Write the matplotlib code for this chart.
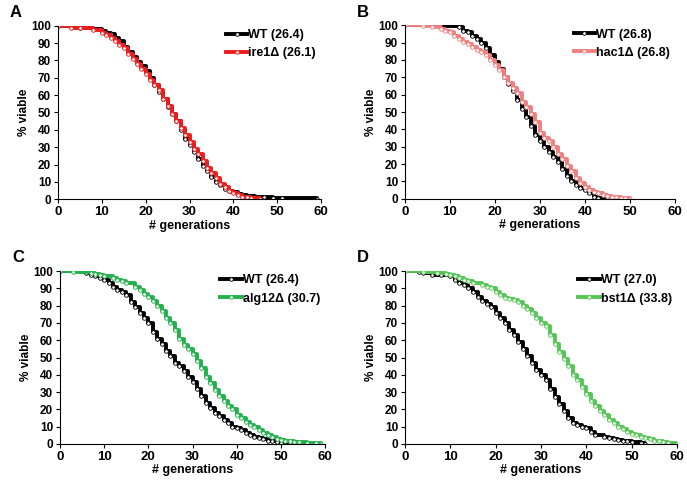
import matplotlib
matplotlib.use('Agg')
import matplotlib.pyplot as plt

plt.rcParams['font.family'] = ['Liberation Sans', 'DejaVu Sans']
plt.rcParams['font.weight'] = 'bold'

# ---- panel A ----
a_wt_gen = [0, 3, 5, 8, 10, 11, 12, 13, 14, 15, 16, 17, 18, 19, 20, 21, 22, 23, 24, 25, 26, 27, 28, 29, 30,
            31, 32, 33, 34, 35, 36, 37, 38, 39, 40, 41, 42, 43, 45, 47, 49, 51, 59]
a_wt_via = [100, 99.5, 99, 98, 97, 96, 95, 93, 91, 88, 85, 82, 79, 77, 74, 70, 66, 62, 58, 53, 49, 45, 40, 35, 31,
            27, 23, 19, 16, 13, 10, 8, 6, 5, 4, 3, 2.5, 2, 1.5, 1, 0.8, 0.5, 0]
a_mu_gen = [0, 3, 5, 8, 10, 11, 12, 13, 14, 15, 16, 17, 18, 19, 20, 21, 22, 23, 24, 25, 26, 27, 28, 29, 30,
            31, 32, 33, 34, 35, 36, 37, 38, 39, 40, 41, 42, 43, 44, 46]
a_mu_via = [100, 99, 98.5, 97.5, 96, 94.5, 93, 91, 89, 87, 84, 81, 78, 75, 72, 69, 66, 63, 58, 54, 49, 45, 41, 37, 33,
            29, 26, 22, 18, 15, 12, 9, 7, 5, 3.5, 2.5, 1.5, 1, 0.5, 0]

# ---- panel B ----
b_wt_gen = [0, 6, 12, 13, 14, 15, 16, 17, 18, 19, 20, 21, 22, 23, 24, 25, 26, 27, 28, 29, 30, 31, 32, 33, 34,
            35, 36, 37, 38, 39, 40, 41, 42, 43, 45]
b_wt_via = [100, 99.5, 99, 97, 96, 94, 92, 90, 87, 83, 79, 75, 70, 66, 62, 57, 52, 47, 42, 37, 33, 30, 27, 24, 21,
            17, 13, 10, 8, 6, 5, 3, 1, 0.5, 0]
b_mu_gen = [0, 4, 6, 8, 9, 10, 11, 12, 13, 14, 15, 16, 17, 18, 19, 20, 21, 22, 23, 24, 25, 26, 27, 28, 29, 30,
            31, 32, 33, 34, 35, 36, 37, 38, 39, 40, 41, 42, 43, 44, 45, 46, 47, 48, 49, 50]
b_mu_via = [100, 99.5, 99, 98, 97, 96, 94, 92, 90.5, 89, 87.5, 86, 84.5, 83, 80, 77, 74, 70, 67, 64, 61, 56, 53, 49,
            44, 38, 35, 33, 30, 26, 23, 19, 16, 12, 9, 7, 5, 4, 3, 2, 1.5, 1, 0.8, 0.5, 0.3, 0]

# ---- panel C ----
c_wt_gen = [0, 6, 7, 8, 9, 10, 11, 12, 13, 14, 15, 16, 17, 18, 19, 20, 21, 22, 23, 24, 25, 26, 27, 28, 29, 30,
            31, 32, 33, 34, 35, 36, 37, 38, 39, 40, 41, 42, 43, 44, 45, 46, 47, 48, 49, 50, 52, 55]
c_wt_via = [100, 99, 98, 97, 96, 95, 93, 91, 89, 88, 86, 82, 79, 76, 73, 70, 65, 61, 58, 54, 51, 47, 45, 42, 39, 36,
            32, 28, 24, 21, 18, 16, 14, 12, 10, 9, 8, 6.5, 5, 4, 3.5, 3, 2, 1.5, 1, 0.5, 0.3, 0]
c_mu_gen = [0, 3, 7, 8, 9, 10, 12, 13, 14, 15, 17, 18, 19, 20, 21, 22, 23, 24, 25, 26, 27, 28, 29, 30, 31, 32,
            33, 34, 35, 36, 37, 38, 39, 40, 41, 42, 43, 44, 45, 46, 47, 48, 49, 50, 51, 52, 53, 54, 56, 58, 59]
c_mu_via = [100, 99.5, 99, 98.5, 98, 97, 96, 95, 94, 93, 91, 89, 87, 85, 83, 80, 77, 73, 70, 66, 61, 57, 55, 52, 48,
            44, 39, 35, 31, 28, 25, 22, 20, 17, 15, 13, 11, 10, 8, 6.5, 5, 4, 3, 2.5, 2, 1.5, 1.2, 1, 0.5, 0.3, 0]

# ---- panel D ----
d_wt_gen = [0, 3, 4, 6, 8, 10, 11, 12, 13, 14, 15, 16, 17, 18, 19, 20, 21, 22, 23, 24, 25, 26, 27, 28, 29, 30,
            31, 32, 33, 34, 35, 36, 37, 38, 39, 40, 41, 42, 44, 45, 46, 47, 48, 49, 50, 52, 53]
d_wt_via = [100, 99.5, 99, 98, 97.5, 97, 95, 93, 92, 90, 88, 85, 83, 81, 79, 76, 73, 70, 66, 63, 59, 55, 51, 47, 43,
            40, 37, 32, 27, 23, 19, 15, 12, 11, 10, 9, 7, 5, 4, 3.5, 3, 2.5, 2, 1.5, 1, 0.5, 0]
d_mu_gen = [0, 4, 7, 9, 10, 11, 12, 13, 14, 15, 17, 18, 19, 20, 21, 22, 23, 24, 25, 26, 27, 28, 29, 30, 31, 32,
            33, 34, 35, 36, 37, 38, 39, 40, 41, 42, 43, 44, 45, 46, 47, 48, 49, 50, 51, 52, 53, 54, 55, 56, 57, 58, 60]
d_mu_via = [100, 99.5, 99, 98.5, 98, 97, 96, 95, 94, 93, 92, 91, 90, 88, 86, 84.5, 84, 83.5, 82, 80, 78, 76, 73, 70,
            68, 63, 58, 53, 49, 45, 40, 37, 33, 29, 25, 22, 19, 17, 14, 12, 10, 8.5, 7, 6, 5, 4, 3.5, 3, 2, 1.5, 1,
            0.5, 0]

panels = [
    ('A', [0.0844, 0.591, 0.383, 0.356], a_wt_gen, a_wt_via, 'WT (26.4)', a_mu_gen, a_mu_via, 'ire1\u0394 (26.1)', '#ee1c1c'),
    ('B', [0.5895, 0.592, 0.393, 0.356], b_wt_gen, b_wt_via, 'WT (26.8)', b_mu_gen, b_mu_via, 'hac1\u0394 (26.8)', '#f08080'),
    ('C', [0.0873, 0.0883, 0.386, 0.355], c_wt_gen, c_wt_via, 'WT (26.4)', c_mu_gen, c_mu_via, 'alg12\u0394 (30.7)', '#22b14c'),
    ('D', [0.5895, 0.0883, 0.396, 0.355], d_wt_gen, d_wt_via, 'WT (27.0)', d_mu_gen, d_mu_via, 'bst1\u0394 (33.8)', '#55c655'),
]

fig = plt.figure(figsize=(6.87, 4.87), dpi=100)

for letter, rect, wg, wv, wlab, mg, mv, mlab, col in panels:
    ax = fig.add_axes(rect)
    ax.plot(wg, wv, drawstyle='steps-post', color='black', lw=2.8,
            marker='o', ms=2.6, mfc='white', mec='black', mew=0.6, label=wlab)
    ax.plot(mg, mv, drawstyle='steps-post', color=col, lw=2.8,
            marker='o', ms=2.6, mfc='white', mec=col, mew=0.6, label=mlab)
    ax.set_xlim(0, 60)
    ax.set_ylim(0, 100)
    ax.set_xticks(range(0, 61, 10))
    ax.set_yticks(range(0, 101, 10))
    ax.spines['top'].set_visible(False)
    ax.spines['right'].set_visible(False)
    ax.tick_params(axis='x', labelsize=9.5, length=3, width=0.8, pad=2)
    ax.tick_params(axis='y', labelsize=8.5, length=3, width=0.8, pad=2)
    ax.set_xlabel('# generations', fontsize=9, fontweight='bold', labelpad=1)
    ax.set_ylabel('% viable', fontsize=8.5, fontweight='bold', labelpad=1)
    ax.legend(loc='upper right', frameon=False, fontsize=9, handlelength=1.7,
              handletextpad=0.1, borderaxespad=0.0, labelspacing=0.5, bbox_to_anchor=(1.0, 1.01))
    fig.text(rect[0] - 0.07, rect[1] + rect[3] + 0.018, letter, fontsize=12, fontweight='bold')

fig.savefig('out.png', dpi=100)
